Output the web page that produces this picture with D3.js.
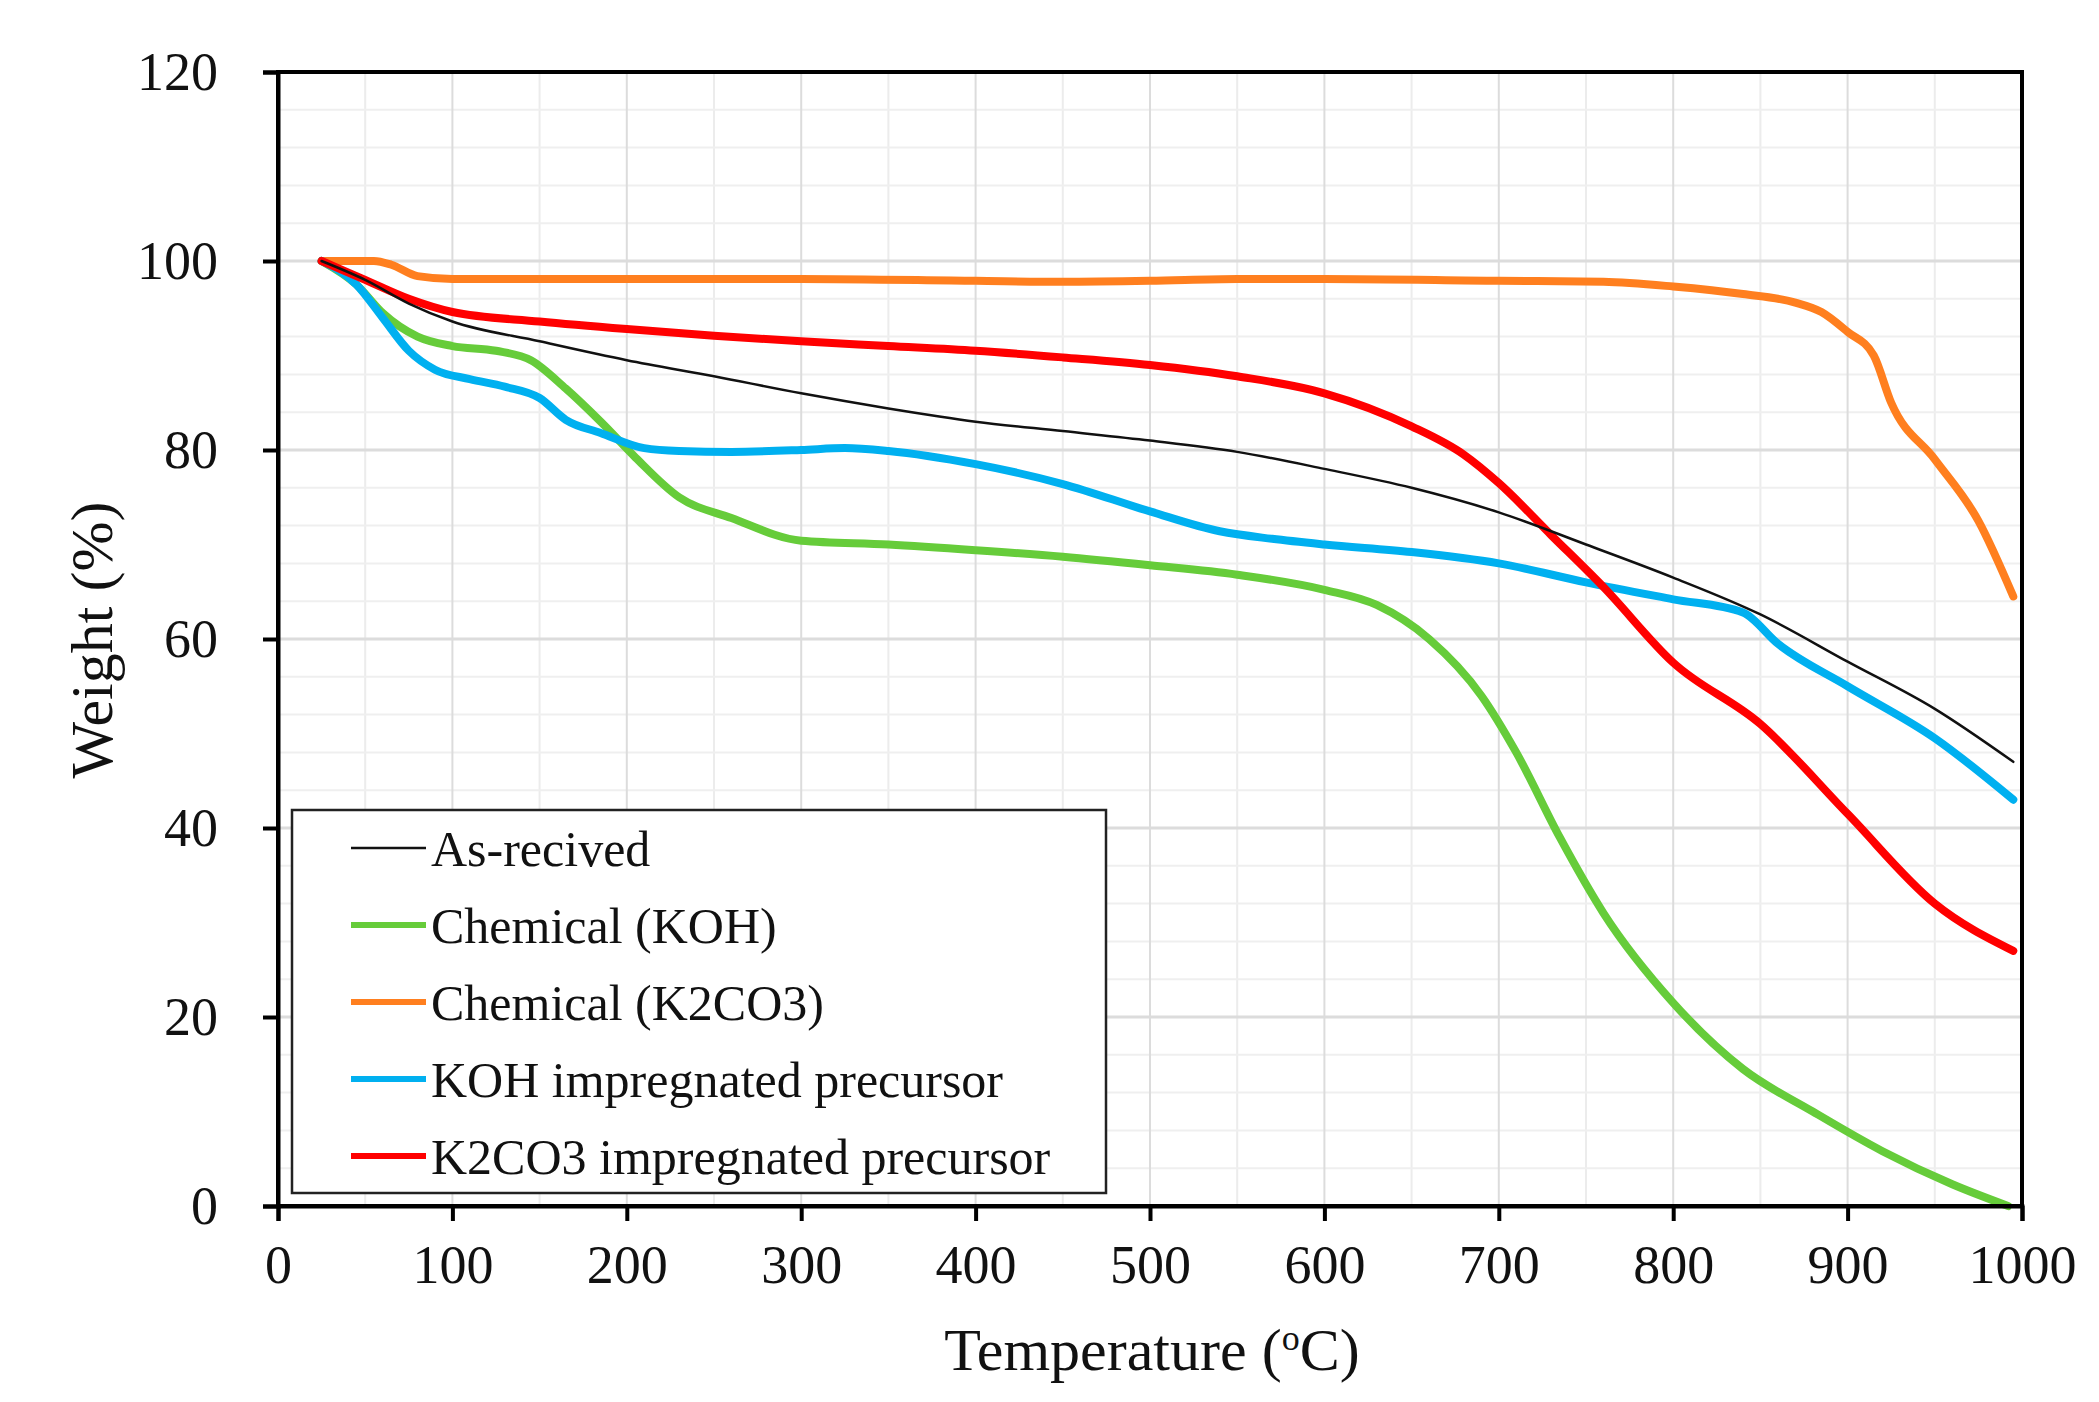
<!DOCTYPE html>
<html>
<head>
<meta charset="utf-8">
<script src="https://cdn.jsdelivr.net/npm/d3@7"></script>
<style>
  body { margin: 0; background: #fff; }
  text { font-family: "Liberation Serif", "Times New Roman", serif; fill: #111; }
</style>
</head>
<body>
<svg id="chart" width="2099" height="1402"></svg>
<script>
// TGA curves (temperature in °C, weight in %)
const asReceivedT = [25, 50, 75, 100, 150, 200, 250, 300, 350, 400, 450, 500, 550, 600, 650, 700, 750, 800, 850, 900, 950, 995];
const asReceivedW = [100, 98, 95.5, 93.6, 91.5, 89.5, 87.8, 86, 84.4, 83, 82, 81, 79.8, 78, 76, 73.4, 70, 66.5, 62.6, 57.6, 52.6, 47];

const kohT = [25, 45, 60, 80, 100, 125, 145, 165, 185, 205, 230, 260, 300, 350, 400, 450, 500, 550, 600, 630, 660, 690, 710, 735, 760, 800, 840, 880, 920, 960, 992];
const kohW = [100, 97.5, 94.5, 92, 91, 90.5, 89.5, 86.5, 83, 79.2, 75, 72.8, 70.4, 70, 69.4, 68.7, 67.8, 66.8, 65.2, 63.6, 60, 54, 48, 39, 31, 21.5, 14.5, 10, 5.8, 2.3, 0];

const k2co3T = [25, 55, 65, 80, 100, 200, 300, 400, 450, 500, 550, 600, 700, 760, 800, 840, 870, 885, 900, 915, 925, 950, 975, 995];
const k2co3W = [100, 100, 99.6, 98.4, 98.1, 98.1, 98.1, 97.9, 97.8, 97.9, 98.1, 98.1, 97.9, 97.8, 97.3, 96.5, 95.6, 94.6, 92.5, 90, 85, 79, 72.5, 64.5];

const kohImpT = [25, 45, 60, 75, 90, 110, 130, 150, 165, 185, 210, 230, 260, 300, 325, 350, 400, 450, 500, 540, 570, 600, 650, 700, 750, 800, 840, 860, 900, 950, 995];
const kohImpW = [100, 97.5, 94, 90.5, 88.5, 87.5, 86.7, 85.5, 83.2, 81.8, 80.2, 79.9, 79.8, 80, 80.2, 79.9, 78.5, 76.4, 73.5, 71.4, 70.6, 70, 69.2, 68, 66, 64.2, 62.8, 59.5, 55, 49.5, 43];

const k2co3ImpT = [25, 50, 75, 100, 150, 200, 250, 300, 350, 400, 450, 500, 550, 600, 650, 680, 700, 730, 760, 800, 850, 900, 950, 995];
const k2co3ImpW = [100, 98, 96, 94.6, 93.6, 92.8, 92.1, 91.5, 91, 90.5, 89.8, 89, 87.8, 86, 82.5, 79.5, 76.5, 71, 65.5, 57.5, 51, 41.5, 32, 27];

const seriesNames = ['As-recived', 'Chemical (KOH)', 'Chemical (K2CO3)', 'KOH impregnated precursor', 'K2CO3 impregnated precursor'];
const seriesColors = ['#111111', '#66cc3a', '#ff7f1f', '#00b0f0', '#ff0000'];
const seriesWidths = [2.5, 8, 8, 8, 8];

const xTicks = [0, 100, 200, 300, 400, 500, 600, 700, 800, 900, 1000];
const yTicks = [0, 20, 40, 60, 80, 100, 120];

const toPoints = (t, w) => t.map((v, i) => ({ t: v, w: w[i] }));
const series = [
  toPoints(asReceivedT, asReceivedW),
  toPoints(kohT, kohW),
  toPoints(k2co3T, k2co3W),
  toPoints(kohImpT, kohImpW),
  toPoints(k2co3ImpT, k2co3ImpW)
];

const svg = d3.select('#chart');
const plot = { left: 278, right: 2022, top: 72, bottom: 1206 };

const x = d3.scaleLinear().domain([0, 1000]).range([plot.left, plot.right]);
const y = d3.scaleLinear().domain([0, 120]).range([plot.bottom, plot.top]);

// minor grid
svg.append('g')
  .selectAll('line')
  .data(d3.range(50, 1000, 100))
  .enter().append('line')
  .attr('x1', (d) => x(d)).attr('x2', (d) => x(d))
  .attr('y1', plot.top).attr('y2', plot.bottom)
  .attr('stroke', '#ececec').attr('stroke-width', 2);

svg.append('g')
  .selectAll('line')
  .data(d3.range(4, 120, 4).filter((d) => d % 20 !== 0))
  .enter().append('line')
  .attr('x1', plot.left).attr('x2', plot.right)
  .attr('y1', (d) => y(d)).attr('y2', (d) => y(d))
  .attr('stroke', '#efefef').attr('stroke-width', 2);

// major grid
svg.append('g')
  .selectAll('line')
  .data(xTicks.slice(1, -1))
  .enter().append('line')
  .attr('x1', (d) => x(d)).attr('x2', (d) => x(d))
  .attr('y1', plot.top).attr('y2', plot.bottom)
  .attr('stroke', '#dcdcdc').attr('stroke-width', 2);

svg.append('g')
  .selectAll('line')
  .data(yTicks.slice(1, -1))
  .enter().append('line')
  .attr('x1', plot.left).attr('x2', plot.right)
  .attr('y1', (d) => y(d)).attr('y2', (d) => y(d))
  .attr('stroke', '#dcdcdc').attr('stroke-width', 3);

// curves
const line = d3.line()
  .x((d) => x(d.t))
  .y((d) => y(d.w))
  .curve(d3.curveMonotoneX);

const order = [1, 2, 3, 4, 0];
svg.append('g')
  .selectAll('path')
  .data(order)
  .enter().append('path')
  .attr('d', (i) => line(series[i]))
  .attr('fill', 'none')
  .attr('stroke', (i) => seriesColors[i])
  .attr('stroke-width', (i) => seriesWidths[i])
  .attr('stroke-linejoin', 'round')
  .attr('stroke-linecap', 'round');

// frame
svg.append('rect')
  .attr('x', plot.left).attr('y', plot.top)
  .attr('width', plot.right - plot.left).attr('height', plot.bottom - plot.top)
  .attr('fill', 'none').attr('stroke', '#000').attr('stroke-width', 4);

// axes
const xAxis = svg.append('g')
  .attr('transform', `translate(0,${plot.bottom})`)
  .call(d3.axisBottom(x).tickValues(xTicks).tickFormat(d3.format('d')).tickSize(15).tickPadding(24));

const yAxis = svg.append('g')
  .attr('transform', `translate(${plot.left},0)`)
  .call(d3.axisLeft(y).tickValues(yTicks).tickFormat(d3.format('d')).tickSize(15).tickPadding(45));

[xAxis, yAxis].forEach((a) => {
  a.select('.domain').attr('stroke', '#000').attr('stroke-width', 4);
  a.selectAll('.tick line').attr('stroke', '#000').attr('stroke-width', 4);
  a.selectAll('.tick text')
    .style('font-family', '"Liberation Serif", serif')
    .style('font-size', '54px')
    .attr('fill', '#111');
});

// legend
const legend = svg.append('g');
legend.append('rect')
  .attr('x', 292).attr('y', 810)
  .attr('width', 814).attr('height', 383)
  .attr('fill', '#fff').attr('stroke', '#222').attr('stroke-width', 2.5);

const rowY = d3.scalePoint().domain(d3.range(5)).range([848, 1156]);

const rows = legend.selectAll('g.row')
  .data(d3.range(5))
  .enter().append('g')
  .attr('transform', (i) => `translate(0,${rowY(i)})`);

rows.append('line')
  .attr('x1', 351).attr('x2', 426)
  .attr('stroke', (i) => seriesColors[i])
  .attr('stroke-width', (i) => (i === 0 ? 2.5 : 6));

rows.append('text')
  .attr('x', 431)
  .attr('dy', '0.35em')
  .style('font-size', '50px')
  .text((i) => seriesNames[i]);

// axis titles
svg.append('text')
  .attr('transform', 'translate(112,640) rotate(-90)')
  .attr('text-anchor', 'middle')
  .style('font-size', '60px')
  .text('Weight (%)');

const xTitle = svg.append('text')
  .attr('x', 1152).attr('y', 1370)
  .attr('text-anchor', 'middle')
  .style('font-size', '60px');
xTitle.append('tspan').text('Temperature (');
xTitle.append('tspan').attr('baseline-shift', 'super').style('font-size', '36px').text('o');
xTitle.append('tspan').text('C)');
</script>
</body>
</html>
